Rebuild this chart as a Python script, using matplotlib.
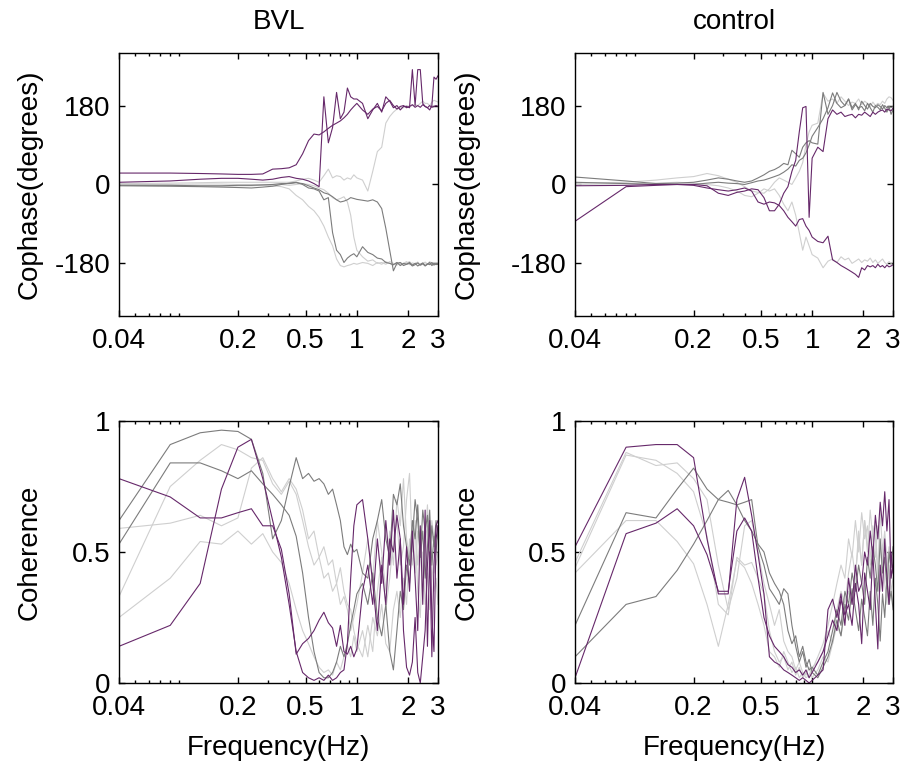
import matplotlib
matplotlib.use("Agg")
import matplotlib.pyplot as plt
from matplotlib.ticker import LogLocator, NullFormatter

plt.rcParams['font.family'] = ['Liberation Sans', 'DejaVu Sans']

# frequency grid (Hz)
freq = [0.04, 0.08, 0.12, 0.16, 0.20, 0.24, 0.28, 0.32, 0.36, 0.40,
        0.44, 0.48, 0.52, 0.56, 0.60, 0.64, 0.68, 0.72, 0.76, 0.80,
        0.84, 0.88, 0.92, 0.96, 1.00,
        1.08, 1.16, 1.24, 1.32, 1.40, 1.48, 1.56, 1.64, 1.72, 1.80,
        1.88, 1.96, 2.04, 2.12, 2.20, 2.28, 2.36, 2.44, 2.52, 2.60,
        2.68, 2.76, 2.84, 2.92, 3.00]

# ---- cophase, BVL (degrees)
bvl_ph_p1 = [26, 26, 25, 24, 23, 23, 24, 35, 36, 38, 45, 70, 100, 115, 113, 120, 128, 135, 140, 145,
             152, 160, 170, 178, 185,
             170, 160, 172, 178, 168, 185, 192, 180, 172, 178, 180, 175, 178, 182, 176, 180, 176, 182, 178, 175,
             180, 176, 178, 180, 178]
bvl_ph_p2 = [5, 8, 12, 14, 14, 12, 10, 12, 16, 18, 14, 12, 8, 2, -5, 200, 95, 130, 210, 150,
             165, 220, 200, 195, 195,
             185, 150, 170, 185, 165, 200, 190, 175, 180, 170, 178, 178, 175, 262, 180, 262, 262, 185, 178, 175,
             170, 180, 245, 240, 248]
bvl_ph_lg1 = [2, 3, 4, 5, 5, 5, 5, 5, 5, 5, 8, 12, 14, 10, 5, 20, 35, 15, 20, 18,
              10, 15, 12, 22, 15,
              10, -15, 30, 75, 85, 140, 155, 165, 172, 175, 175, 180, 178, 180, 182, 180, 185, 190, 185, 185,
              180, 188, 192, 190, 188]
bvl_ph_lg2 = [-2, -3, -4, -4, -3, -3, -2, -3, -5, -10, -25, -35, -50, -60, -75, -95, -120, -140, -170, -185,
              -188, -185, -183, -180, -182,
              -178, -180, -185, -178, -182, -176, -180, -184, -178, -182, -180, -176, -183, -179, -181, -177, -184, -180, -178, -182,
              -176, -180, -183, -178, -181]
bvl_ph_dg1 = [-3, -4, -5, -6, -7, -8, -6, -4, 0, 3, 5, 0, -8, -10, -15, -35, -30, -110, -150, -160,
              -178, -168, -162, -158, -165,
              -142, -155, -160, -168, -170, -178, -180, -183, -178, -185, -180, -182, -178, -184, -180, -186, -182, -179, -185, -181,
              -183, -178, -184, -180, -182]
bvl_ph_lg3 = [0, 0, 1, 1, 0, 0, 0, 0, 0, -2, 0, 2, 0, -3, -8, -12, -20, -30, -35, -32,
              -28, -40, -70, -120, -150,
              -165, -175, -172, -180, -178, -182, -176, -180, -184, -178, -182, -179, -176, -183, -180, -178, -185, -181, -177, -182,
              -180, -184, -178, -181, -179]
bvl_ph_dg2 = [-2, -2, -3, -3, -2, -2, -1, 0, 2, 2, 4, 2, -3, -8, -12, -19, -22, -28, -35, -40,
              -38, -35, -30, -32, -34,
              -36, -38, -35, -40, -55, -100, -150, -197, -180, -178, -185, -182, -180, -186, -183, -179, -184, -181, -186, -182,
              -178, -185, -180, -183, -181]

# ---- cophase, control (degrees)
ctl_ph_p1 = [-84, -5, -2, 0, 0, -3, -20, -25, -18, -15, -10, -12, -30, -60, -60, -45, -20, -5, 30, 55,
             120, 175, 178, -75, 60,
             85, 75, 150, 170, 160, 165, 155, 158, 160, 152, 160, 158, 165, 160, 155, 165, 160, 165, 168, 170,
             165, 172, 170, 168, 174]
ctl_ph_p2 = [-3, -2, 0, 0, -2, -8, -12, -15, -12, -8, -15, -40, -45, -40, -42, -48, -60, -75, -85, -95,
             -80, -78, -95, -105, -120,
             -130, -133, -118, -172, -178, -185, -190, -195, -200, -205, -212, -190, -195, -185, -188, -185, -190, -182, -188, -185,
             -190, -184, -188, -186, -183]
ctl_ph_dg1 = [17, 8, 2, 3, 5, 10, 15, 12, 8, 5, 8, 15, 22, 30, 34, 40, 48, 45, 78, 70,
              62, 85, 95, 100, 95,
              92, 210, 160, 180, 210, 190, 180, 195, 175, 185, 170, 190, 180, 172, 185, 178, 175, 182, 178, 172,
              180, 175, 178, 176, 178]
ctl_ph_dg2 = [5, 2, 0, 0, 0, 3, 5, 3, 2, 0, 4, 8, 10, 14, 18, 22, 28, 35, 45, 42,
              55, 60, 72, 90, 110,
              130, 150, 175, 209, 185, 175, 180, 195, 170, 182, 175, 178, 168, 185, 175, 165, 180, 176, 170, 182,
              174, 165, 178, 160, 170]
ctl_ph_lg1 = [3, 5, 10, 15, 18, 25, 20, 12, 5, -5, -15, -18, -20, -10, 5, 15, 10, 5, 0, 15,
              30, 50, 90, 120, 135,
              140, 208, 190, 195, 185, 200, 190, 180, 188, 185, 195, 182, 190, 185, 178, 188, 180, 185, 182, 190,
              185, 195, 200, 198, 192]
ctl_ph_lg2 = [0, 2, 3, 5, 3, 0, -3, -8, -15, -25, -28, -20, -10, -15, -10, -25, -45, -60, -40, -70,
              -110, -150, -120, -140, -160,
              -168, -190, -175, -170, -178, -165, -172, -168, -180, -175, -170, -178, -172, -175, -168, -178, -172, -180, -175, -170,
              -178, -182, -176, -180, -178]

# ---- coherence, BVL
bvl_co_dg1 = [0.62, 0.91, 0.955, 0.965, 0.96, 0.93, 0.80, 0.55, 0.62, 0.75, 0.86, 0.78, 0.80, 0.77, 0.78, 0.76, 0.72, 0.74, 0.68, 0.62,
              0.52, 0.49, 0.53, 0.50, 0.51,
              0.42, 0.40, 0.55, 0.62, 0.70, 0.55, 0.48, 0.72, 0.68, 0.76, 0.60, 0.52, 0.45, 0.62, 0.55, 0.68, 0.48, 0.66, 0.58, 0.64,
              0.46, 0.60, 0.52, 0.62, 0.55]
bvl_co_dg2 = [0.53, 0.84, 0.84, 0.81, 0.78, 0.81, 0.76, 0.72, 0.68, 0.64, 0.56, 0.42, 0.25, 0.12, 0.04, 0.02, 0.02, 0.04, 0.08, 0.14,
              0.10, 0.15, 0.22, 0.28, 0.34,
              0.38, 0.30, 0.42, 0.25, 0.18, 0.30, 0.12, 0.05, 0.20, 0.35, 0.28, 0.45, 0.38, 0.55, 0.70, 0.62, 0.48, 0.58, 0.40, 0.52,
              0.66, 0.45, 0.56, 0.50, 0.60]
bvl_co_p1 = [0.78, 0.71, 0.63, 0.63, 0.65, 0.665, 0.60, 0.60, 0.51, 0.34, 0.11, 0.15, 0.17, 0.20, 0.24, 0.27, 0.23, 0.21, 0.14, 0.22,
             0.12, 0.11, 0.14, 0.10, 0.13,
             0.35, 0.45, 0.30, 0.55, 0.38, 0.62, 0.45, 0.66, 0.40, 0.55, 0.30, 0.52, 0.35, 0.58, 0.40, 0.20, 0.60, 0.30, 0.66, 0.14,
             0.50, 0.10, 0.45, 0.60, 0.62]
bvl_co_p2 = [0.14, 0.22, 0.38, 0.74, 0.90, 0.93, 0.78, 0.62, 0.48, 0.30, 0.12, 0.04, 0.02, 0.01, 0.02, 0.01, 0.03, 0.01, 0.02, 0.04,
             0.05, 0.15, 0.40, 0.60, 0.68,
             0.70, 0.55, 0.38, 0.20, 0.45, 0.30, 0.55, 0.50, 0.64, 0.55, 0.20, 0.06, 0.03, 0.08, 0.25, 0.04, 0.00, 0.10, 0.20, 0.45,
             0.62, 0.25, 0.12, 0.55, 0.60]
bvl_co_lg1 = [0.33, 0.75, 0.85, 0.91, 0.89, 0.86, 0.85, 0.76, 0.72, 0.77, 0.72, 0.62, 0.52, 0.45, 0.48, 0.40, 0.42, 0.35, 0.38, 0.30,
              0.33, 0.28, 0.20, 0.25, 0.30,
              0.42, 0.55, 0.40, 0.62, 0.50, 0.35, 0.58, 0.45, 0.70, 0.60, 0.78, 0.55, 0.48, 0.62, 0.42, 0.58, 0.50, 0.35, 0.55, 0.60,
              0.45, 0.50, 0.42, 0.50, 0.48]
bvl_co_lg2 = [0.25, 0.40, 0.54, 0.53, 0.58, 0.53, 0.57, 0.50, 0.46, 0.38, 0.28, 0.20, 0.15, 0.10, 0.06, 0.04, 0.05, 0.03, 0.08, 0.05,
              0.10, 0.14, 0.10, 0.18, 0.12,
              0.20, 0.10, 0.25, 0.18, 0.30, 0.15, 0.12, 0.28, 0.35, 0.25, 0.40, 0.30, 0.55, 0.45, 0.60, 0.35, 0.25, 0.50, 0.30, 0.42,
              0.28, 0.45, 0.35, 0.40, 0.30]
bvl_co_lg3 = [0.59, 0.61, 0.64, 0.60, 0.63, 0.82, 0.86, 0.78, 0.73, 0.78, 0.74, 0.66, 0.55, 0.58, 0.48, 0.52, 0.45, 0.47, 0.38, 0.44,
              0.35, 0.30, 0.28, 0.20, 0.15,
              0.10, 0.22, 0.12, 0.35, 0.48, 0.28, 0.40, 0.55, 0.62, 0.45, 0.52, 0.70, 0.80, 0.50, 0.62, 0.45, 0.58, 0.40, 0.55, 0.68,
              0.50, 0.62, 0.55, 0.45, 0.50]

# ---- coherence, control
ctl_co_p1 = [0.52, 0.90, 0.91, 0.91, 0.86, 0.55, 0.34, 0.34, 0.70, 0.785, 0.64, 0.49, 0.34, 0.10, 0.08, 0.07, 0.05, 0.04, 0.03, 0.02,
             0.01, 0.02, 0.01, 0.00, 0.01,
             0.03, 0.05, 0.28, 0.32, 0.25, 0.34, 0.22, 0.40, 0.30, 0.45, 0.35, 0.38, 0.50, 0.45, 0.58, 0.48, 0.64, 0.55, 0.69, 0.60,
             0.73, 0.58, 0.70, 0.40, 0.45]
ctl_co_p2 = [0.02, 0.57, 0.61, 0.665, 0.60, 0.49, 0.35, 0.35, 0.58, 0.63, 0.58, 0.40, 0.25, 0.18, 0.14, 0.12, 0.10, 0.07, 0.06, 0.04,
             0.05, 0.03, 0.05, 0.02, 0.04,
             0.08, 0.12, 0.18, 0.24, 0.20, 0.32, 0.26, 0.30, 0.22, 0.38, 0.30, 0.15, 0.42, 0.35, 0.28, 0.50, 0.30, 0.13, 0.45, 0.35,
             0.55, 0.40, 0.30, 0.50, 0.42]
ctl_co_dg1 = [0.22, 0.65, 0.63, 0.74, 0.82, 0.74, 0.70, 0.69, 0.68, 0.62, 0.58, 0.53, 0.50, 0.42, 0.38, 0.35, 0.30, 0.20, 0.15, 0.18,
              0.10, 0.14, 0.08, 0.05, 0.06,
              0.03, 0.08, 0.12, 0.20, 0.28, 0.22, 0.35, 0.30, 0.42, 0.35, 0.45, 0.38, 0.30, 0.48, 0.40, 0.52, 0.45, 0.35, 0.55, 0.42,
              0.48, 0.36, 0.50, 0.44, 0.52]
ctl_co_dg2 = [0.10, 0.30, 0.33, 0.43, 0.53, 0.62, 0.70, 0.735, 0.68, 0.69, 0.70, 0.52, 0.45, 0.36, 0.33, 0.30, 0.36, 0.34, 0.22, 0.14,
              0.08, 0.12, 0.06, 0.09, 0.04,
              0.02, 0.06, 0.10, 0.16, 0.24, 0.18, 0.30, 0.24, 0.36, 0.28, 0.20, 0.32, 0.25, 0.18, 0.35, 0.22, 0.40, 0.30, 0.16, 0.34,
              0.25, 0.40, 0.30, 0.35, 0.28]
ctl_co_lg1 = [0.44, 0.87, 0.85, 0.80, 0.73, 0.56, 0.30, 0.26, 0.48, 0.45, 0.46, 0.40, 0.34, 0.20, 0.12, 0.08, 0.10, 0.05, 0.08, 0.03,
              0.06, 0.02, 0.04, 0.02, 0.05,
              0.10, 0.15, 0.22, 0.30, 0.38, 0.45, 0.40, 0.55, 0.48, 0.62, 0.50, 0.65, 0.55, 0.60, 0.45, 0.52, 0.62, 0.40, 0.35, 0.50,
              0.38, 0.30, 0.45, 0.35, 0.40]
ctl_co_lg2 = [0.42, 0.62, 0.62, 0.54, 0.455, 0.30, 0.14, 0.30, 0.47, 0.44, 0.38, 0.30, 0.22, 0.12, 0.10, 0.06, 0.12, 0.08, 0.04, 0.06,
              0.02, 0.04, 0.03, 0.06, 0.02,
              0.05, 0.10, 0.08, 0.15, 0.22, 0.18, 0.28, 0.35, 0.30, 0.40, 0.55, 0.45, 0.62, 0.50, 0.66, 0.55, 0.48, 0.60, 0.52, 0.42,
              0.55, 0.48, 0.40, 0.35, 0.30]
ctl_co_lg3 = [0.46, 0.88, 0.83, 0.84, 0.78, 0.70, 0.45, 0.28, 0.40, 0.60, 0.62, 0.50, 0.38, 0.30, 0.22, 0.28, 0.16, 0.12, 0.10, 0.05,
              0.08, 0.04, 0.02, 0.03, 0.06,
              0.08, 0.12, 0.20, 0.15, 0.28, 0.35, 0.30, 0.42, 0.50, 0.40, 0.58, 0.45, 0.62, 0.52, 0.48, 0.60, 0.55, 0.42, 0.66, 0.50,
              0.58, 0.45, 0.52, 0.40, 0.48]

PURPLE = "#66286a"
DARK = "#7c7c7c"
LIGHT = "#cfcfcf"

panels = [
    # (axes rect, series, kind)
    ([0.1315, 0.5848, 0.3525, 0.3456],
     [(bvl_ph_lg1, LIGHT), (bvl_ph_lg2, LIGHT), (bvl_ph_lg3, LIGHT),
      (bvl_ph_dg1, DARK), (bvl_ph_dg2, DARK), (bvl_ph_p1, PURPLE), (bvl_ph_p2, PURPLE)], "phase"),
    ([0.6354, 0.5848, 0.3514, 0.3456],
     [(ctl_ph_lg1, LIGHT), (ctl_ph_lg2, LIGHT), (ctl_ph_dg1, DARK), (ctl_ph_dg2, DARK),
      (ctl_ph_p1, PURPLE), (ctl_ph_p2, PURPLE)], "phase"),
    ([0.1315, 0.1025, 0.3525, 0.3443],
     [(bvl_co_lg1, LIGHT), (bvl_co_lg2, LIGHT), (bvl_co_lg3, LIGHT),
      (bvl_co_dg1, DARK), (bvl_co_dg2, DARK), (bvl_co_p1, PURPLE), (bvl_co_p2, PURPLE)], "coh"),
    ([0.6354, 0.1025, 0.3514, 0.3443],
     [(ctl_co_lg1, LIGHT), (ctl_co_lg2, LIGHT), (ctl_co_lg3, LIGHT),
      (ctl_co_dg1, DARK), (ctl_co_dg2, DARK), (ctl_co_p1, PURPLE), (ctl_co_p2, PURPLE)], "coh"),
]

FS = 20
fig = plt.figure(figsize=(9.05, 7.61), dpi=100)
axes = []
for rect, series, kind in panels:
    ax = fig.add_axes(rect)
    for vals, col in series:
        ax.plot(freq, vals, color=col, lw=0.8)
    ax.set_xscale("log")
    ax.set_xlim(0.04, 3)
    ax.set_xticks([0.04, 0.2, 0.5, 1, 2, 3])
    ax.set_xticklabels(["0.04", "0.2", "0.5", "1", "2", "3"])
    ax.xaxis.set_minor_locator(LogLocator(base=10, subs=range(2, 10)))
    ax.xaxis.set_minor_formatter(NullFormatter())
    if kind == "phase":
        ax.set_ylim(-300, 300)
        ax.set_yticks([-180, 0, 180])
        ax.set_yticklabels(["-180", "0", "180"])
        ax.set_ylabel("Cophase(degrees)", fontsize=FS)
    else:
        ax.set_ylim(0, 1)
        ax.set_yticks([0, 0.5, 1])
        ax.set_yticklabels(["0", "0.5", "1"])
        ax.set_ylabel("Coherence", fontsize=FS)
        ax.set_xlabel("Frequency(Hz)", fontsize=FS, labelpad=10)
    ax.tick_params(which="both", direction="in", top=True, right=True,
                   labelsize=FS, width=1.0)
    ax.tick_params(which="major", length=4)
    ax.tick_params(axis="x", which="major", pad=9)
    ax.tick_params(axis="y", which="major", pad=6)
    ax.tick_params(which="minor", length=2)
    for sp in ax.spines.values():
        sp.set_linewidth(1.0)
    axes.append(ax)

axes[0].set_title("BVL", fontsize=FS, pad=17)
axes[1].set_title("control", fontsize=FS, pad=17)
axes[0].yaxis.set_label_coords(-0.24, 0.5)
axes[2].yaxis.set_label_coords(-0.24, 0.5)
axes[1].yaxis.set_label_coords(-0.30, 0.5)
axes[3].yaxis.set_label_coords(-0.30, 0.5)

fig.savefig("out.png", dpi=100)
